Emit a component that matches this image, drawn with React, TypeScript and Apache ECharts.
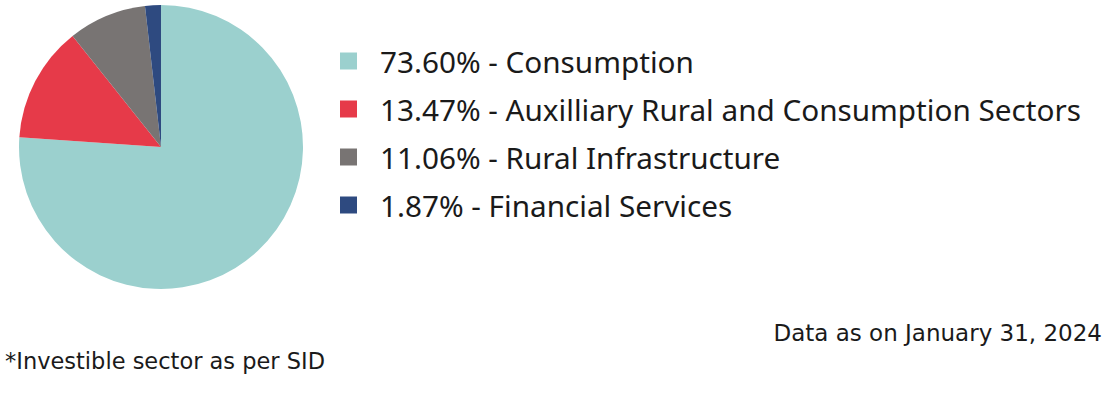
import React, { useEffect, useRef } from "react";
import * as echarts from "echarts";

const categories = [
  "Consumption",
  "Auxilliary Rural and Consumption Sectors",
  "Rural Infrastructure",
  "Financial Services",
];
// percentages printed in the legend
const legendPercents = [73.6, 13.47, 11.06, 1.87];
// slice sizes as drawn in the picture
const sliceValues = [76.1, 13.2, 8.9, 1.8];
const colors = ["#9bd0ce", "#e63a49", "#787473", "#2e4a80"];
const footLeft = "*Investible sector as per SID";
const footRight = "Data as on January 31, 2024";

const FONT = "'Noto Sans', sans-serif";
const FOOT_FONT = "'DejaVu Sans', sans-serif";

export default function App() {
  const ref = useRef<HTMLDivElement>(null);
  useEffect(() => {
    if (!ref.current) return;
    const chart = echarts.init(ref.current, null, { renderer: "svg" });
    const pctMap: Record<string, number> = {};
    categories.forEach((c, i) => (pctMap[c] = legendPercents[i]));
    chart.setOption({
      animation: false,
      color: colors,
      legend: {
        orient: "vertical",
        left: 340,
        top: 46,
        padding: 0,
        itemWidth: 17,
        itemHeight: 17,
        itemGap: 18,
        icon: "rect",
        selectedMode: false,
        data: categories,
        formatter: (name: string) => `${pctMap[name].toFixed(2)}% - ${name}`,
        textStyle: {
          fontFamily: FONT,
          fontSize: 29.7,
          color: "#1a1a1a",
          padding: [0, 0, 0, 18],
          lineHeight: 30,
        },
      },
      series: [
        {
          type: "pie",
          center: [161, 147],
          radius: 142,
          startAngle: 90,
          clockwise: true,
          label: { show: false },
          labelLine: { show: false },
          emphasis: { disabled: true },
          itemStyle: { borderWidth: 0 },
          data: categories.map((c, i) => ({ name: c, value: sliceValues[i] })),
        },
      ],
      graphic: [
        {
          type: "text",
          x: 1102,
          y: 333,
          style: {
            text: footRight,
            font: `23px ${FOOT_FONT}`,
            fill: "#1a1a1a",
            textAlign: "right",
            textVerticalAlign: "middle",
          },
        },
        {
          type: "text",
          x: 5,
          y: 361,
          style: {
            text: footLeft,
            font: `22.5px ${FOOT_FONT}`,
            fill: "#1a1a1a",
            textAlign: "left",
            textVerticalAlign: "middle",
          },
        },
      ],
    });
    return () => chart.dispose();
  }, []);
  return (
    <div
      ref={ref}
      style={{ position: "absolute", left: 0, top: 0, width: 1107, height: 399 }}
    />
  );
}
